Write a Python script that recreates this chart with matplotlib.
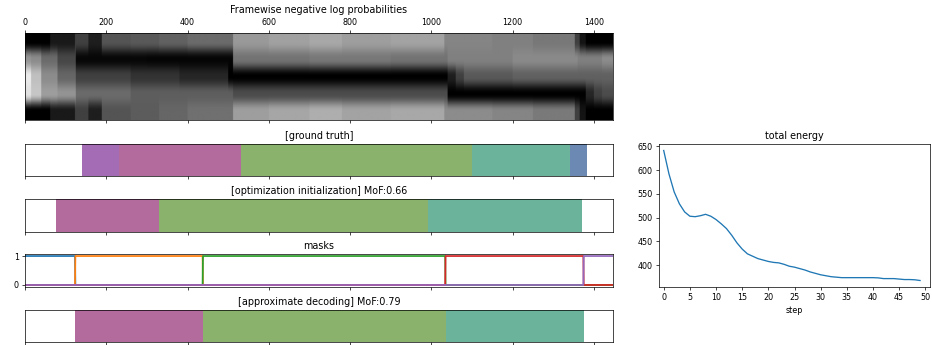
import matplotlib
matplotlib.use('Agg')
import matplotlib.pyplot as plt
import numpy as np

plt.rcParams['font.size'] = 9.2

n_frames = 1447

# framewise neg log prob rows: segment edges (frames) and gray level per segment
row0_edges = [0, 62, 123, 156, 189, 260, 330, 400, 512, 600, 700, 780, 900, 1032, 1150, 1250, 1353, 1365, 1380, 1447]
row0_vals = [0.0, 0.1, 0.25, 0.12, 0.33, 0.35, 0.38, 0.42, 0.6, 0.63, 0.66, 0.62, 0.64, 0.52, 0.5, 0.47, 0.25, 0.08, 0.0]
row1_edges = [0, 15, 40, 80, 125, 300, 512, 700, 900, 1040, 1200, 1360, 1420, 1447]
row1_vals = [0.58, 0.55, 0.42, 0.28, 0.03, 0.02, 0.45, 0.47, 0.45, 0.5, 0.54, 0.5, 0.55]
row2_edges = [0, 15, 40, 80, 125, 260, 380, 500, 1040, 1060, 1080, 1200, 1447]
row2_vals = [0.92, 0.75, 0.55, 0.4, 0.25, 0.2, 0.15, 0.0, 0.12, 0.25, 0.35, 0.38]
row3_edges = [0, 15, 40, 80, 125, 260, 512, 1040, 1380, 1400, 1420, 1447]
row3_vals = [0.88, 0.78, 0.62, 0.58, 0.42, 0.37, 0.3, 0.0, 0.15, 0.25, 0.3]
row4_edges = [0, 62, 123, 156, 189, 260, 330, 400, 512, 600, 700, 780, 900, 1032, 1150, 1250, 1353, 1365, 1380, 1447]
row4_vals = [0.0, 0.1, 0.25, 0.12, 0.33, 0.36, 0.4, 0.44, 0.62, 0.65, 0.68, 0.64, 0.66, 0.55, 0.52, 0.48, 0.25, 0.08, 0.0]

# segmentations: (start, end, color)
gt_segments = [(140, 231, '#a36cb4'), (231, 531, '#b36b9e'), (531, 1101, '#8bb26c'),
               (1101, 1341, '#6bb39a'), (1341, 1384, '#6c89b4')]
init_segments = [(77, 330, '#b36b9e'), (330, 992, '#8bb26c'), (992, 1371, '#6bb39a')]
approx_segments = [(124, 438, '#b36b9e'), (438, 1035, '#8bb26c'), (1035, 1375, '#6bb39a')]

mask_bounds = [0, 124, 438, 1035, 1375, 1447]

energy = [641, 592, 554, 529, 512, 503, 502, 504, 507, 503,
          496, 487, 477, 463, 447, 434, 424, 419, 414, 411,
          408, 406, 405, 402, 398, 396, 393, 390, 386, 383,
          380, 378, 376, 375, 374, 374, 374, 374, 374, 374,
          374, 373.5, 372, 372, 372, 371, 370, 370, 369.5, 368]


def build_row(edges, vals):
    return np.repeat(vals, np.diff(edges))


W, H = 932, 345
dpi = 63
fig = plt.figure(figsize=(W / dpi, H / dpi), dpi=dpi)

def px_axes(x0, y0, x1, y1):
    return fig.add_axes([x0 / W, 1 - y1 / H, (x1 - x0) / W, (y1 - y0) / H])

# heatmap
ax = px_axes(25, 33, 613, 120)
img = np.vstack([build_row(row0_edges, row0_vals), build_row(row1_edges, row1_vals),
                 build_row(row2_edges, row2_vals), build_row(row3_edges, row3_vals),
                 build_row(row4_edges, row4_vals)])
ax.imshow(img, aspect='auto', cmap='gray', vmin=0, vmax=1, extent=(0, n_frames, 5, 0))
ax.set_xlim(0, n_frames)
ax.set_yticks([])
ax.set_xticks(np.arange(0, 1401, 200))
ax.tick_params(top=True, labeltop=True, bottom=True, labelbottom=False)
ax.set_title('Framewise negative log probabilities')

def seg_axes(pos, segments, title):
    a = px_axes(*pos)
    for s, e, c in segments:
        a.axvspan(s, e, color=c, lw=0)
    a.set_xlim(0, n_frames)
    a.set_ylim(0, 1)
    a.set_yticks([])
    a.set_xticks(np.arange(0, 1401, 200))
    a.set_xticklabels([])
    a.set_title(title)
    return a

seg_axes((25, 144, 613, 176), gt_segments, '[ground truth]')
seg_axes((25, 199, 613, 232), init_segments, '[optimization initialization] MoF:0.66')

# masks
am = px_axes(25, 254, 613, 287)
frames = np.arange(n_frames)
for i in range(len(mask_bounds) - 1):
    m = ((frames >= mask_bounds[i]) & (frames < mask_bounds[i + 1])).astype(float)
    am.plot(frames, m, lw=2)
am.set_xlim(0, n_frames)
am.set_ylim(-0.07, 1.07)
am.set_xticks(np.arange(0, 1401, 200))
am.set_xticklabels([])
am.set_yticks([0, 1])
am.set_title('masks')

seg_axes((25, 310, 613, 342), approx_segments, '[approximate decoding] MoF:0.79')

# energy
ae = px_axes(659, 144, 930, 287)
ae.plot(np.arange(len(energy)), energy)
ae.set_xlim(-0.9, 50.9)
ae.set_xticks(np.arange(0, 51, 5))
ae.set_title('total energy')
ae.set_xlabel('step')

fig.savefig('out.png', dpi=dpi)
